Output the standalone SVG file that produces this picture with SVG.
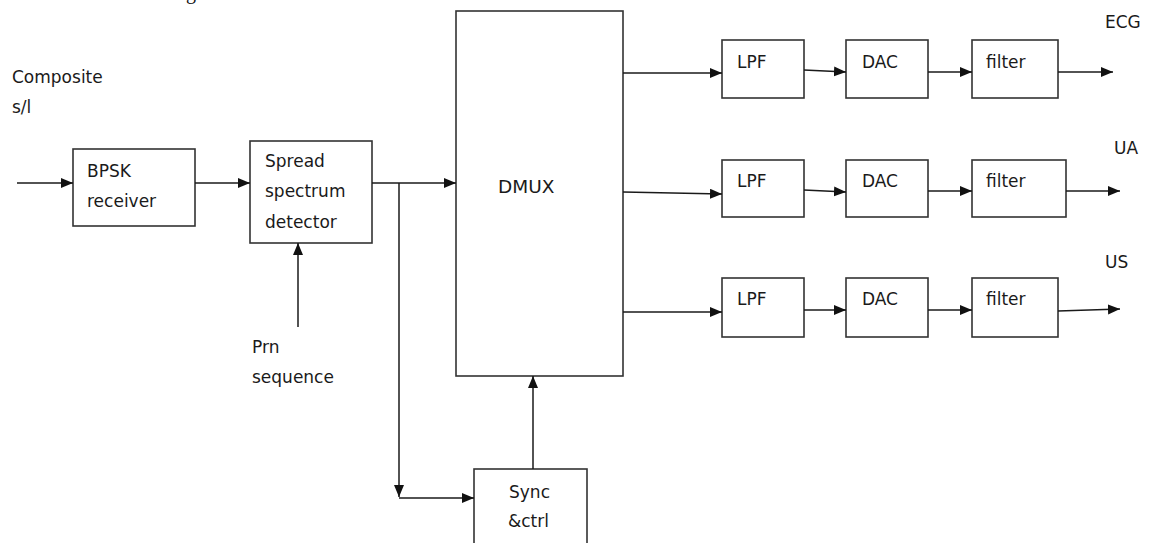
<svg xmlns="http://www.w3.org/2000/svg" width="1150" height="543" viewBox="0 0 1150 543">
<style>
.box{fill:#fff;stroke:#333;stroke-width:1.6}
.lbl{font-family:"DejaVu Sans",sans-serif;font-size:17px;fill:#1a1a1a}
.big{font-family:"DejaVu Sans",sans-serif;font-size:18.5px;fill:#1a1a1a}
.ln{fill:none;stroke:#1a1a1a;stroke-width:1.5}
</style>
<defs>
<marker id="ah" markerUnits="userSpaceOnUse" markerWidth="13" markerHeight="11" refX="12" refY="5" orient="auto">
<path d="M0,0 L12,5 L0,10 z" fill="#111"/>
</marker>
</defs>
<rect width="1150" height="543" fill="#fff"/>
<text x="186" y="-1" style="font-family:'Liberation Serif',serif;font-size:20px" fill="#111">g</text>
<g id="composite"><text class="lbl" x="12" y="83">Composite</text><text class="lbl" x="12" y="113">s/l</text></g>
<g id="bpsk"><rect class="box" x="73" y="149" width="122" height="77"/><text class="lbl" x="87" y="177">BPSK</text><text class="lbl" x="87" y="207">receiver</text></g>
<g id="spread"><rect class="box" x="250" y="141" width="122" height="102"/><text class="lbl" x="265" y="167">Spread</text><text class="lbl" x="265" y="197">spectrum</text><text class="lbl" x="265" y="228">detector</text></g>
<g id="prn"><text class="lbl" x="252" y="353">Prn</text><text class="lbl" x="252" y="383">sequence</text></g>
<g id="dmux"><rect class="box" x="456" y="11" width="167" height="365"/><text class="big" x="498" y="193">DMUX</text></g>
<g id="sync"><rect class="box" x="474" y="469" width="113" height="90"/><text class="lbl" x="509" y="498">Sync</text><text class="lbl" x="508" y="527">&amp;ctrl</text></g>
<g id="lpf1"><rect class="box" x="722" y="40" width="82" height="58"/><text class="lbl" x="737" y="68">LPF</text></g>
<g id="dac1"><rect class="box" x="846" y="40" width="82" height="58"/><text class="lbl" x="862" y="68">DAC</text></g>
<g id="filter1"><rect class="box" x="972" y="40" width="86" height="58"/><text class="lbl" x="986" y="68">filter</text></g>
<g id="lpf2"><rect class="box" x="722" y="160" width="82" height="57"/><text class="lbl" x="737" y="187">LPF</text></g>
<g id="dac2"><rect class="box" x="846" y="160" width="82" height="57"/><text class="lbl" x="862" y="187">DAC</text></g>
<g id="filter2"><rect class="box" x="972" y="160" width="94" height="57"/><text class="lbl" x="986" y="187">filter</text></g>
<g id="lpf3"><rect class="box" x="722" y="278" width="82" height="59"/><text class="lbl" x="737" y="305">LPF</text></g>
<g id="dac3"><rect class="box" x="846" y="278" width="82" height="59"/><text class="lbl" x="862" y="305">DAC</text></g>
<g id="filter3"><rect class="box" x="972" y="278" width="86" height="59"/><text class="lbl" x="986" y="305">filter</text></g>
<g id="outlabels"><text class="lbl" x="1105" y="28">ECG</text><text class="lbl" x="1114" y="154">UA</text><text class="lbl" x="1105" y="268">US</text></g>
<g id="connectors">
<path class="ln" d="M17,183 H73" marker-end="url(#ah)"/>
<path class="ln" d="M195,183 H250" marker-end="url(#ah)"/>
<path class="ln" d="M298,327 V243" marker-end="url(#ah)"/>
<path class="ln" d="M372,183 H456" marker-end="url(#ah)"/>
<path class="ln" d="M399,183 V497" marker-end="url(#ah)"/>
<path class="ln" d="M399,498 H474" marker-end="url(#ah)"/>
<path class="ln" d="M533,469 V376" marker-end="url(#ah)"/>
<path class="ln" d="M623,73 H722" marker-end="url(#ah)"/>
<path class="ln" d="M623,192 L722,194" marker-end="url(#ah)"/>
<path class="ln" d="M623,312 H722" marker-end="url(#ah)"/>
<path class="ln" d="M804,70 L846,72" marker-end="url(#ah)"/>
<path class="ln" d="M804,190 L846,192" marker-end="url(#ah)"/>
<path class="ln" d="M804,310 H846" marker-end="url(#ah)"/>
<path class="ln" d="M928,72 H972" marker-end="url(#ah)"/>
<path class="ln" d="M928,191 H972" marker-end="url(#ah)"/>
<path class="ln" d="M928,310 H972" marker-end="url(#ah)"/>
<path class="ln" d="M1058,72 H1113" marker-end="url(#ah)"/>
<path class="ln" d="M1066,191 H1120" marker-end="url(#ah)"/>
<path class="ln" d="M1058,311 L1120,309" marker-end="url(#ah)"/>
</g>
</svg>
